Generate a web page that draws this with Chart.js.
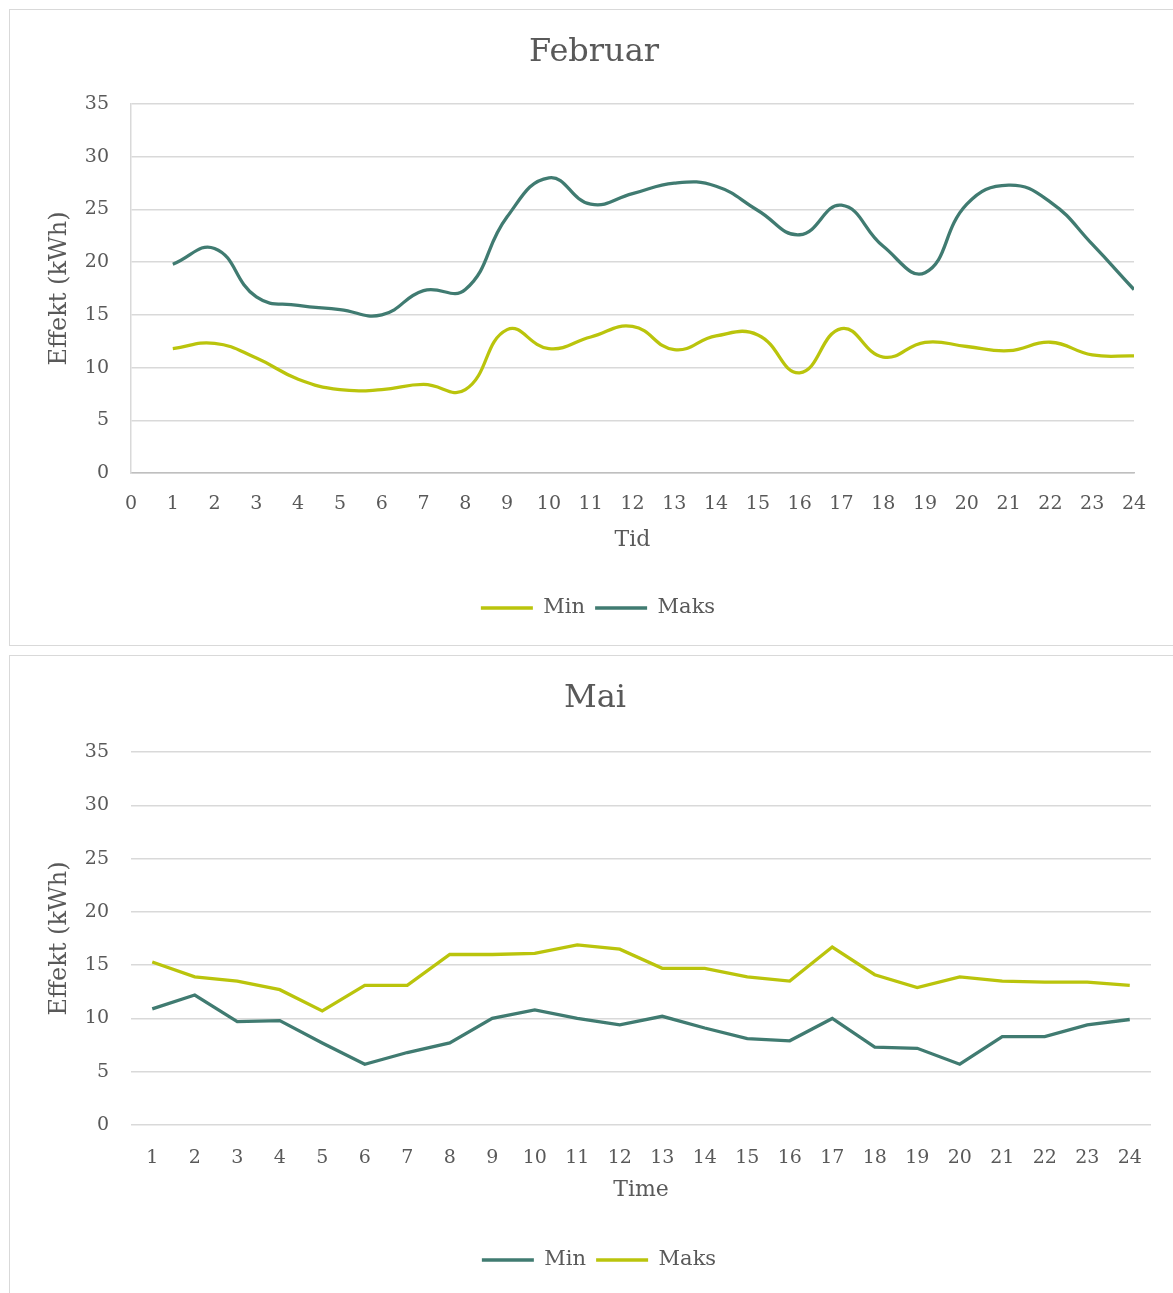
<!DOCTYPE html>
<html>
<head>
<meta charset="utf-8">
<script src="https://cdn.jsdelivr.net/npm/chart.js@4/dist/chart.umd.min.js"></script>
<style>
html,body{margin:0;padding:0;background:#fff;overflow:hidden;width:1173px;height:1293px;}
.box{position:absolute;border:1px solid #d9d9d9;box-sizing:border-box;background:#fff;}
canvas{position:absolute;}
</style>
</head>
<body>
<div class="box" style="left:9px;top:9px;width:1200px;height:637px;"></div>
<div class="box" style="left:9px;top:655px;width:1200px;height:700px;"></div>
<canvas id="c1" width="1163" height="635" style="left:10px;top:10px;width:1163px;height:635px;"></canvas>
<canvas id="c2" width="1163" height="637" style="left:10px;top:656px;width:1163px;height:637px;"></canvas>
<script>
// ---- data ----
const hours = [1,2,3,4,5,6,7,8,9,10,11,12,13,14,15,16,17,18,19,20,21,22,23,24];
const febMin  = [11.8,12.3,10.9,8.9,7.9,7.9,8.4,7.9,13.6,11.8,12.9,13.9,11.7,13.0,13.1,9.5,13.7,11.0,12.4,12.0,11.6,12.4,11.2,11.1];
const febMaks = [19.8,21.3,16.7,15.9,15.5,15.0,17.3,17.4,24.3,28.0,25.5,26.5,27.5,27.2,24.9,22.6,25.4,21.5,19.0,25.5,27.3,25.7,21.7,17.4];
const maiMin  = [10.9,12.2,9.7,9.8,7.7,5.7,6.8,7.7,10.0,10.8,10.0,9.4,10.2,9.1,8.1,7.9,10.0,7.3,7.2,5.7,8.3,8.3,9.4,9.9];
const maiMaks = [15.3,13.9,13.5,12.7,10.7,13.1,13.1,16.0,16.0,16.1,16.9,16.5,14.7,14.7,13.9,13.5,16.7,14.1,12.9,13.9,13.5,13.4,13.4,13.1];
const seriesNames = ['Min','Maks'];
const titles = ['Februar','Mai'];
const xTitles = ['Tid','Time'];
const yTitle = 'Effekt (kWh)';

// ---- styling ----
const FONT = "'DejaVu Serif', serif";
const TXT = '#595959';
const TEAL = '#407b71';
const LIME = '#bac40c';
const GRID = '#d9d9d9';

Chart.defaults.font.family = FONT;
Chart.defaults.color = TXT;

const centerBoxes = {
  id: 'centerBoxes',
  beforeDraw(chart, args, opts) {
    const t = chart.titleBlock, l = chart.legend;
    if (t) { const w = t.right - t.left; t.left = opts.title - w/2; t.right = opts.title + w/2; }
    if (l) { const w = l.right - l.left; l.left = opts.legend - w/2; l.right = opts.legend + w/2; }
  }
};

function lineDs(label, data, color, tension) {
  return {label, data, borderColor: color, backgroundColor: color, borderWidth: 3.3,
          pointRadius: 0, pointHoverRadius: 0, tension: tension, fill: false};
}

function commonPlugins(title, tPad, legendCenter, titleCenter) {
  return {
    title: {display: true, text: title, color: TXT, font: {family: FONT, size: 32, weight: 'normal'}, padding: tPad},
    legend: {position: 'bottom', labels: {usePointStyle: true, pointStyle: 'line', pointStyleWidth: 52,
             color: TXT, font: {family: FONT, size: 21}, padding: 10}},
    tooltip: {enabled: false},
    centerBoxes: {title: titleCenter, legend: legendCenter}
  };
}

function yScale(borderShow) {
  return {
    min: 0, max: 35,
    ticks: {stepSize: 5, padding: 22, color: TXT, font: {family: FONT, size: 19}},
    grid: {color: GRID, lineWidth: 1.5, drawTicks: false},
    border: {display: borderShow, color: GRID, width: 1.5},
    title: {display: true, text: yTitle, color: TXT, font: {family: FONT, size: 24}, padding: {top: 35.6, bottom: 0}},
    afterFit: s => { s.width = 121; }
  };
}

// ---- Februar ----
new Chart(document.getElementById('c1'), {
  type: 'line',
  data: {
    datasets: [
      lineDs(seriesNames[0], hours.map((h, i) => ({x: h, y: febMin[i]})), LIME, 0.45),
      lineDs(seriesNames[1], hours.map((h, i) => ({x: h, y: febMaks[i]})), TEAL, 0.45)
    ]
  },
  options: {
    responsive: false, animation: false, devicePixelRatio: 1,
    layout: {padding: {left: 0, right: 39, top: 0, bottom: 16.5}},
    plugins: commonPlugins(titles[0], {top: 23, bottom: 32.6}, 588, 584),
    scales: {
      x: {
        type: 'linear', min: 0, max: 24,
        ticks: {stepSize: 1, padding: 19.5, autoSkip: false, maxRotation: 0, color: TXT, font: {family: FONT, size: 19}},
        grid: {display: false, drawTicks: false},
        border: {display: true, color: '#bfbfbf', width: 1.5},
        title: {display: true, text: xTitles[0], color: TXT, font: {family: FONT, size: 22}, padding: {top: 0, bottom: 34.3}},
        afterFit: s => { s.height = 114.5; }
      },
      y: yScale(true)
    }
  },
  plugins: [centerBoxes]
});

// ---- Mai ----
new Chart(document.getElementById('c2'), {
  type: 'line',
  data: {
    labels: hours.map(String),
    datasets: [
      lineDs(seriesNames[0], maiMin, TEAL, 0),
      lineDs(seriesNames[1], maiMaks, LIME, 0)
    ]
  },
  options: {
    responsive: false, animation: false, devicePixelRatio: 1,
    layout: {padding: {left: 0, right: 22, top: 0, bottom: 12.5}},
    plugins: commonPlugins(titles[1], {top: 23, bottom: 34.6}, 589, 585),
    scales: {
      x: {
        type: 'category', offset: true,
        ticks: {padding: 21.3, autoSkip: false, maxRotation: 0, color: TXT, font: {family: FONT, size: 19}},
        grid: {display: false, drawTicks: false},
        border: {display: false},
        title: {display: true, text: xTitles[1], color: TXT, font: {family: FONT, size: 22}, padding: {top: 0, bottom: 36.3}},
        afterFit: s => { s.height = 114.5; }
      },
      y: yScale(false)
    }
  },
  plugins: [centerBoxes]
});
</script>
</body>
</html>
